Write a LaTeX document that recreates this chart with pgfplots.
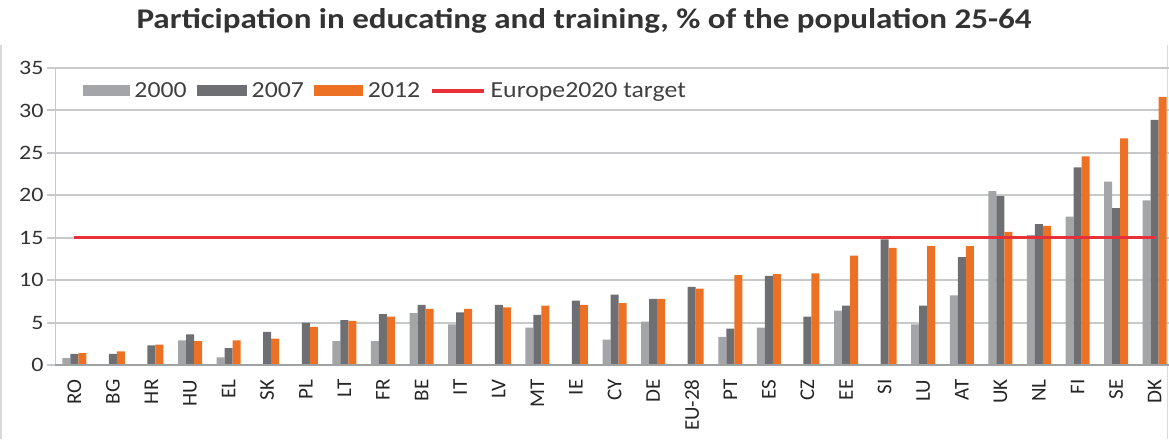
\documentclass[border=0pt]{standalone}
\usepackage{pgfplots}
\pgfplotsset{compat=1.18}
\usepackage{pgfplotstable}
\usepackage{fontspec}
\setmainfont{Carlito}
\newfontfamily\tickfont[FakeStretch=1.17]{Carlito}
\newfontfamily\legfont[FakeStretch=1.12]{Carlito}
\newfontfamily\titlefont[FakeStretch=1.16]{Carlito}
\newfontfamily\xfont{Carlito}
\definecolor{cA}{HTML}{A3A5A8}
\definecolor{cB}{HTML}{6D6F72}
\definecolor{cC}{HTML}{EC7124}
\definecolor{cR}{HTML}{E8303A}
\definecolor{gridc}{HTML}{C8C9CB}
\pgfplotstableread{
x a b c
0 0.8 1.3 1.4
1 nan 1.3 1.6
2 nan 2.3 2.4
3 2.9 3.6 2.8
4 0.9 2.0 2.9
5 nan 3.9 3.1
6 nan 5.0 4.5
7 2.8 5.3 5.2
8 2.8 6.0 5.7
9 6.1 7.1 6.6
10 4.8 6.2 6.6
11 nan 7.1 6.8
12 4.4 5.9 7.0
13 nan 7.6 7.1
14 3.0 8.3 7.3
15 5.1 7.8 7.8
16 nan 9.2 9.0
17 3.3 4.3 10.6
18 4.4 10.5 10.7
19 nan 5.7 10.8
20 6.4 7.0 12.9
21 nan 14.8 13.8
22 4.8 7.0 14.0
23 8.2 12.7 14.0
24 20.5 19.9 15.7
25 15.3 16.6 16.4
26 17.5 23.3 24.6
27 21.6 18.5 26.7
28 19.4 28.9 31.6
}\data
\begin{document}
\begin{tikzpicture}[x=1pt,y=1pt]
\useasboundingbox (0,0) rectangle (1169,439);
\draw[gridc!70, line width=1.2pt] (1,0) -- (1,394);
\draw[gridc!70, line width=1.2pt] (1167.5,0) -- (1167.5,394);
\node[anchor=base, font=\titlefont\bfseries\fontsize{28.5}{30}\selectfont, text=black!80] at (584,410) {Participation in educating and training, \% of the population 25-64};
\begin{axis}[
  at={(55pt,74pt)}, anchor=south west,
  scale only axis, width=1114pt, height=297pt,
  xmin=-0.5, xmax=28.37, ymin=0, ymax=35,
  axis line style={draw=none},
  ytick={0,5,...,35},
  ymajorgrids, grid style={draw=gridc, line width=2pt},
  major tick length=8pt, tick align=outside,
  ytick style={draw=gridc, line width=2pt},
  xtick={0,...,28},
  xticklabels={RO,BG,HR,HU,EL,SK,PL,LT,FR,BE,IT,LV,MT,IE,CY,DE,EU-28,PT,ES,CZ,EE,SI,LU,AT,UK,NL,FI,SE,DK},
  xtick style={draw=none},
  minor xtick={-0.5,0.5,...,27.5},
  minor tick length=7pt,
  minor tick style={draw=gridc, line width=1.5pt},
  xticklabel style={rotate=90, anchor=east, font=\xfont\fontsize{21}{22}\selectfont, text=black!85, xshift=-3pt},
  yticklabel style={font=\tickfont\fontsize{20.5}{22}\selectfont, text=black!80, /pgf/number format/assume math mode=true},
  legend style={at={(0.0245,0.923)}, anchor=west, draw=none, fill=none, inner sep=0pt,
    font=\legfont\fontsize{23}{24}\selectfont, text=black!75,
    /tikz/every even column/.append style={column sep=8pt},
    /tikz/every odd column/.append style={column sep=3pt}},
  legend columns=4,
  clip=true,
]
\draw[gridc, line width=1.5pt] (axis cs:-0.5,0) -- (axis cs:-0.5,35);
\addplot[ybar, bar width=8pt, bar shift=-8pt, fill=cA, draw=none,
  legend image code/.code={\fill[cA] (0pt,-5.5pt) rectangle (47pt,5.5pt);}] table[x=x,y=a]{\data};
\addlegendentry{2000}
\addplot[ybar, bar width=8pt, bar shift=0pt, fill=cB, draw=none,
  legend image code/.code={\fill[cB] (0pt,-5.5pt) rectangle (50pt,5.5pt);}] table[x=x,y=b]{\data};
\addlegendentry{2007}
\addplot[ybar, bar width=8pt, bar shift=8pt, fill=cC, draw=none,
  legend image code/.code={\fill[cC] (0pt,-5.5pt) rectangle (49pt,5.5pt);}] table[x=x,y=c]{\data};
\addlegendentry{2012}
\addplot[cR, line width=3.5pt, mark=none,
  legend image code/.code={\draw[cR, line width=3.5pt] (0pt,0pt) -- (52pt,0pt);}] coordinates {(0,15) (28,15)};
\addlegendentry{Europe2020 target}
\draw[gridc!80!black, line width=1.5pt] (axis cs:-0.7,0) -- (axis cs:28.37,0);
\end{axis}
\end{tikzpicture}
\end{document}
